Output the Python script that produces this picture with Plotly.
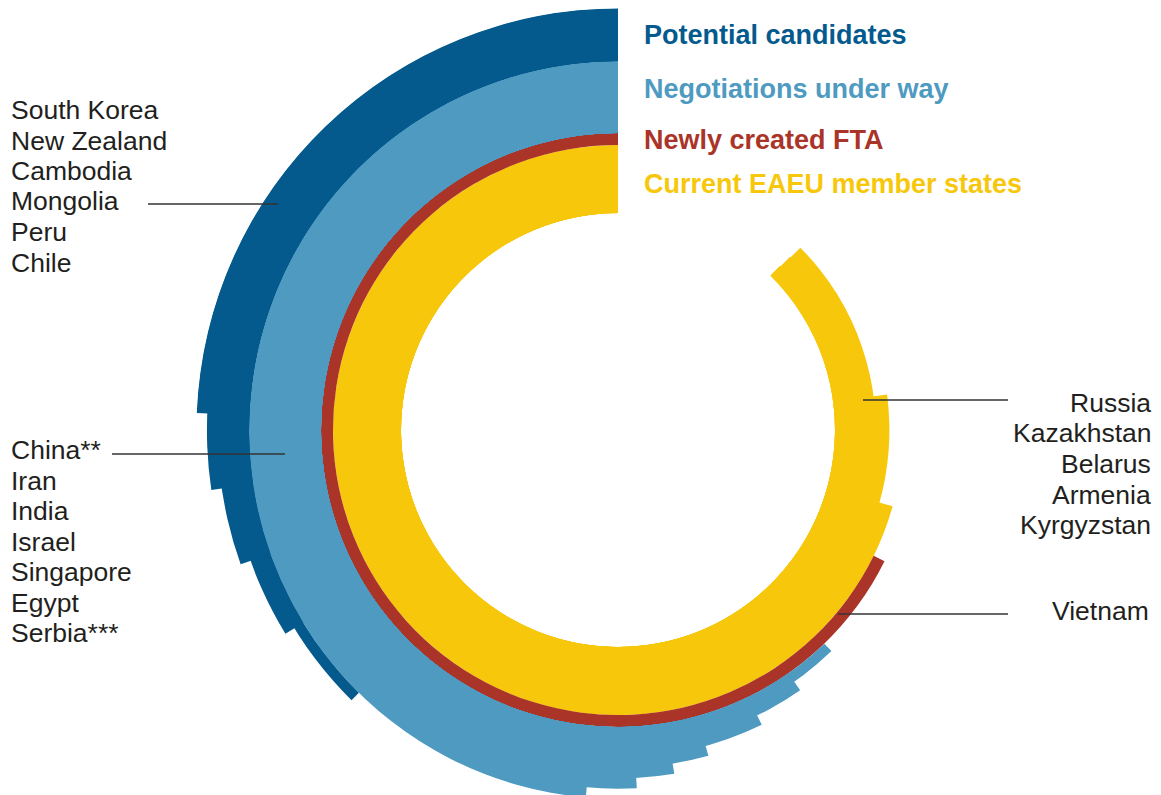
import plotly.graph_objects as go

W, H = 1161, 860       # figure is taller than the window; the page shows the top part
PAGE = 8               # default body margin of the html page
CX, CY = 618 - PAGE, 430 - PAGE   # centre of the rings in figure px
R_FRAME = 422          # radius of the polar frame in px (radial units = px)

# angular length of every track, degrees counter-clockwise from 12 o'clock
eaeu_sweep = [315.4, 315.2, 315.0, 277.5, 254.5]
fta_sweep = [243.8]
negotiation_sweep = [224, 215, 206, 195.5, 189.3, 183, 175]
candidate_sweep = [135.4, 121.5, 109.6, 98.4, 87.7]

group_names = ["Potential candidates", "Negotiations under way",
               "Newly created FTA", "Current EAEU member states"]
candidate_labels = ["South Korea", "New Zealand", "Cambodia", "Mongolia", "Peru", "Chile"]
negotiation_labels = ["China**", "Iran", "India", "Israel", "Singapore", "Egypt", "Serbia***"]
eaeu_labels = ["Russia", "Kazakhstan", "Belarus", "Armenia", "Kyrgyzstan"]
fta_labels = ["Vietnam"]

DARK = "#045a8d"
LIGHT = "#4e9ac1"
RED = "#ab3428"
YELLOW = "#f7c70c"
TEXT = "#231f20"
FONT = "Liberation Sans, Arial, sans-serif"


def ring(sweeps, r_in, r_out, color, name):
    # every track is drawn from the group's inner edge out to its own outer edge,
    # so neighbouring tracks overlap and no hairline gaps show between them
    n = len(sweeps)
    t = (r_out - r_in) / n
    return go.Barpolar(
        theta=[s / 2 for s in sweeps],
        width=sweeps,
        base=[r_in] * n,
        r=[(i + 1) * t for i in range(n)],
        marker=dict(color=color, line=dict(width=0)),
        name=name, showlegend=False, hoverinfo="name",
    )


fig = go.Figure()
fig.add_trace(ring(eaeu_sweep, 217, 285, YELLOW, group_names[3]))
fig.add_trace(ring(fta_sweep, 285, 297, RED, group_names[2]))
fig.add_trace(ring(negotiation_sweep, 297, 369, LIGHT, group_names[1]))
fig.add_trace(ring(candidate_sweep, 369, 421.6, DARK, group_names[0]))


def px(x, y):
    # position on the page -> paper coords
    return (x - PAGE) / W, 1 - (y - PAGE) / H


annotations = []

# group headings
for name, color, y in zip(group_names, [DARK, LIGHT, RED, YELLOW], [35, 89, 139.5, 184]):
    x, yy = px(642, y)
    annotations.append(dict(x=x, y=yy, text=name, xanchor="left", yanchor="middle", showarrow=False,
                            font=dict(family=FONT, size=27, color=color, weight="bold")))

label_sets = [
    (candidate_labels, 9, 110, "left"),
    (negotiation_labels, 9, 450, "left"),
    (eaeu_labels, 1153, 403, "right"),
    (fta_labels, 1151, 611, "right"),
]
for labels, x0, y0, anchor in label_sets:
    for i, lab in enumerate(labels):
        x, yy = px(x0, y0 + i * 30.5)
        annotations.append(dict(x=x, y=yy, text=lab, xanchor=anchor, yanchor="middle", showarrow=False,
                                font=dict(family=FONT, size=26.5, color=TEXT)))

leaders = [(148, 278, 204), (112, 285, 454), (863, 1008, 400), (838, 1008, 614)]
shapes = []
for x0, x1, y in leaders:
    a = px(x0, y)
    b = px(x1, y)
    shapes.append(dict(type="line", xref="paper", yref="paper", x0=a[0], x1=b[0], y0=a[1], y1=b[1],
                       line=dict(color="#333333", width=1.3)))

fig.update_layout(
    width=W, height=H,
    margin=dict(l=0, r=0, t=0, b=0),
    paper_bgcolor="white", plot_bgcolor="white",
    polar=dict(
        domain=dict(x=[(CX - R_FRAME) / W, (CX + R_FRAME) / W],
                    y=[(H - CY - R_FRAME) / H, (H - CY + R_FRAME) / H]),
        bgcolor="rgba(0,0,0,0)",
        barmode="overlay",
        radialaxis=dict(range=[0, R_FRAME], visible=False),
        angularaxis=dict(visible=False, rotation=90, direction="counterclockwise"),
    ),
    annotations=annotations,
    shapes=shapes,
)

fig.write_html("out.html")
